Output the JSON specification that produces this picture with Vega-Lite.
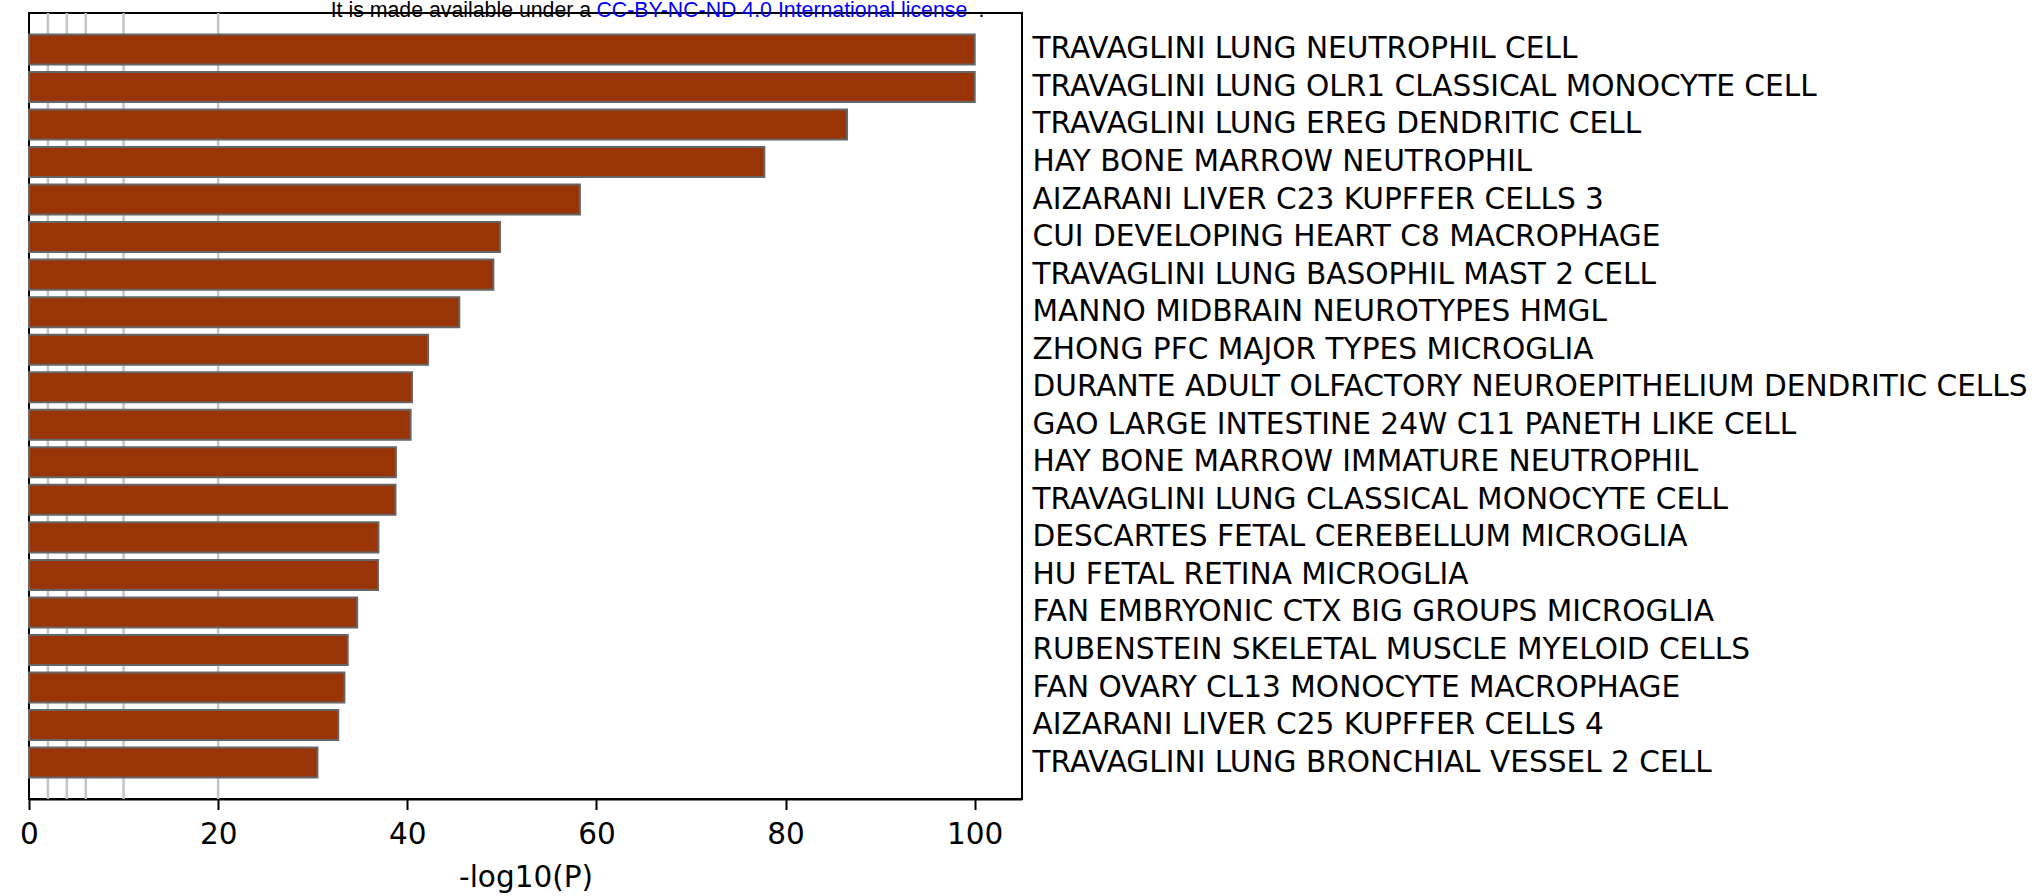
{
  "$schema": "https://vega.github.io/schema/vega-lite/v6.json",
  "width": 993,
  "height": 786,
  "autosize": {"type": "none"},
  "padding": {"left": 29, "top": 13, "right": 1016, "bottom": 97},
  "background": "white",
  "config": {
    "view": {"stroke": "black", "strokeWidth": 2},
    "font": "DejaVu Sans"
  },
  "datasets": {
    "bars": [
      {"term": "TRAVAGLINI LUNG NEUTROPHIL CELL", "value": 100},
      {"term": "TRAVAGLINI LUNG OLR1 CLASSICAL MONOCYTE CELL", "value": 100},
      {"term": "TRAVAGLINI LUNG EREG DENDRITIC CELL", "value": 86.5},
      {"term": "HAY BONE MARROW NEUTROPHIL", "value": 77.75},
      {"term": "AIZARANI LIVER C23 KUPFFER CELLS 3", "value": 58.25},
      {"term": "CUI DEVELOPING HEART C8 MACROPHAGE", "value": 49.8},
      {"term": "TRAVAGLINI LUNG BASOPHIL MAST 2 CELL", "value": 49.1},
      {"term": "MANNO MIDBRAIN NEUROTYPES HMGL", "value": 45.5},
      {"term": "ZHONG PFC MAJOR TYPES MICROGLIA", "value": 42.2},
      {"term": "DURANTE ADULT OLFACTORY NEUROEPITHELIUM DENDRITIC CELLS", "value": 40.5},
      {"term": "GAO LARGE INTESTINE 24W C11 PANETH LIKE CELL", "value": 40.35},
      {"term": "HAY BONE MARROW IMMATURE NEUTROPHIL", "value": 38.8},
      {"term": "TRAVAGLINI LUNG CLASSICAL MONOCYTE CELL", "value": 38.75},
      {"term": "DESCARTES FETAL CEREBELLUM MICROGLIA", "value": 36.95},
      {"term": "HU FETAL RETINA MICROGLIA", "value": 36.9},
      {"term": "FAN EMBRYONIC CTX BIG GROUPS MICROGLIA", "value": 34.7},
      {"term": "RUBENSTEIN SKELETAL MUSCLE MYELOID CELLS", "value": 33.7},
      {"term": "FAN OVARY CL13 MONOCYTE MACROPHAGE", "value": 33.35},
      {"term": "AIZARANI LIVER C25 KUPFFER CELLS 4", "value": 32.7},
      {"term": "TRAVAGLINI LUNG BRONCHIAL VESSEL 2 CELL", "value": 30.5}
    ],
    "grid": [{"x": 2}, {"x": 4}, {"x": 6}, {"x": 10}, {"x": 20}]
  },
  "layer": [
    {
      "data": {"name": "grid"},
      "mark": {"type": "rule", "color": "#c4c4c4", "strokeWidth": 2.5},
      "encoding": {
        "x": {"field": "x", "type": "quantitative", "scale": {"domain": [0, 105], "nice": false, "zero": true}}
      }
    },
    {
      "data": {"name": "bars"},
      "mark": {"type": "bar", "fill": "#983405", "stroke": "#666666", "strokeWidth": 2},
      "encoding": {
        "y": {
          "field": "term", "type": "nominal", "sort": null,
          "scale": {"paddingInner": 0.2, "paddingOuter": 0.57},
          "axis": {
            "orient": "right", "title": null, "ticks": false, "domain": false,
            "labelFont": "DejaVu Sans", "labelFontSize": 29.6, "labelColor": "black",
            "labelPadding": 10, "labelLimit": 2000, "labelAlign": "left"
          }
        },
        "x": {
          "field": "value", "type": "quantitative",
          "scale": {"domain": [0, 105], "nice": false, "zero": true},
          "axis": {
            "values": [0, 20, 40, 60, 80, 100], "grid": false,
            "title": "-log10(P)", "titleFont": "DejaVu Sans", "titleFontSize": 29.5,
            "titleFontWeight": "normal", "titleColor": "black",
            "titleBaseline": "alphabetic", "titleY": 87,
            "labelFont": "DejaVu Sans", "labelFontSize": 29.5, "labelColor": "black",
            "labelPadding": 11, "labelFlush": false,
            "domainColor": "black", "domainWidth": 2,
            "tickColor": "black", "tickWidth": 2, "tickSize": 10.5
          }
        }
      }
    },
    {
      "data": {"values": [{}]},
      "mark": {"type": "text", "font": "Liberation Sans", "fontSize": 21.3, "align": "left", "baseline": "alphabetic", "color": "black", "dy": -32.4},
      "encoding": {
        "x": {"datum": 31.9, "type": "quantitative"},
        "y": {"datum": "TRAVAGLINI LUNG NEUTROPHIL CELL", "type": "nominal"},
        "text": {"value": "It is made available under a"}
      }
    },
    {
      "data": {"values": [{}]},
      "mark": {"type": "text", "font": "Liberation Sans", "fontSize": 21.3, "align": "left", "baseline": "alphabetic", "color": "blue", "dy": -32.4},
      "encoding": {
        "x": {"datum": 60.0, "type": "quantitative"},
        "y": {"datum": "TRAVAGLINI LUNG NEUTROPHIL CELL", "type": "nominal"},
        "text": {"value": "CC-BY-NC-ND 4.0 International license"}
      }
    },
    {
      "data": {"values": [{}]},
      "mark": {"type": "text", "font": "Liberation Sans", "fontSize": 21.3, "align": "left", "baseline": "alphabetic", "color": "black", "dy": -32.4},
      "encoding": {
        "x": {"datum": 100.4, "type": "quantitative"},
        "y": {"datum": "TRAVAGLINI LUNG NEUTROPHIL CELL", "type": "nominal"},
        "text": {"value": "."}
      }
    }
  ]
}
